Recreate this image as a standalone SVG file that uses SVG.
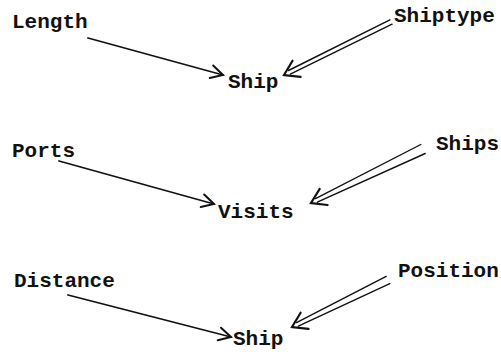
<svg xmlns="http://www.w3.org/2000/svg" width="501" height="352" viewBox="0 0 501 352">
  <style>
    .lbl { font-family: "Liberation Mono", "DejaVu Sans Mono", monospace; font-size: 21px; font-weight: bold; fill: #111; }
    .shaft { fill: none; stroke: #111; stroke-width: 1.8; stroke-linecap: round; }
    .rail { fill: none; stroke: #111; stroke-width: 1.4; stroke-linecap: round; }
    .axis { fill: none; stroke: none; }
    .single { marker-end: url(#head); }
    .double { marker-end: url(#headWide); }
  </style>
  <defs>
    <marker id="head" markerUnits="userSpaceOnUse" orient="auto" refX="0" refY="0"
            viewBox="-16 -10 20 20" markerWidth="20" markerHeight="20" overflow="visible">
      <path d="M-12,-6.5 L0,0 L-12,6.5" fill="none" stroke="#111" stroke-width="2" stroke-linejoin="miter" stroke-linecap="round"/>
    </marker>
    <marker id="headWide" markerUnits="userSpaceOnUse" orient="auto" refX="0" refY="0"
            viewBox="-18 -12 22 24" markerWidth="22" markerHeight="24" overflow="visible">
      <path d="M-14,-9 L0,0 L-14,9" fill="none" stroke="#111" stroke-width="2.2" stroke-linejoin="miter" stroke-linecap="round"/>
    </marker>
  </defs>

  <rect width="501" height="352" fill="#fff"/>

  <g id="connectors">
    <!-- Length -> Ship -->
    <path class="shaft single" d="M88,38 L223,75"/>
    <!-- Shiptype => Ship (two rails) -->
    <path class="rail" d="M389.9,19.8 L288.5,70.5"/>
    <path class="rail" d="M392.1,24.2 L290.3,74.1"/>
    <path class="axis double" d="M391,22 L284,75"/>

    <!-- Ports -> Visits -->
    <path class="shaft single" d="M59,161 L214,204"/>
    <!-- Ships => Visits -->
    <path class="rail" d="M420.8,144.5 L315.5,198.6"/>
    <path class="rail" d="M425.2,153.5 L317.3,202.2"/>
    <path class="axis double" d="M423,149 L311,203"/>

    <!-- Distance -> Ship -->
    <path class="shaft single" d="M68,295 L231,337"/>
    <!-- Position => Ship -->
    <path class="rail" d="M386.2,276.4 L296.5,322.6"/>
    <path class="rail" d="M389.8,283.6 L298.3,326.2"/>
    <path class="axis double" d="M388,280 L292,327"/>
  </g>

  <g id="length"><text class="lbl" x="12" y="28">Length</text></g>
  <g id="shiptype"><text class="lbl" x="394" y="22">Shiptype</text></g>
  <g id="ship-1"><text class="lbl" x="228" y="88">Ship</text></g>

  <g id="ports"><text class="lbl" x="12" y="157">Ports</text></g>
  <g id="ships"><text class="lbl" x="436" y="150">Ships</text></g>
  <g id="visits"><text class="lbl" x="218" y="218">Visits</text></g>

  <g id="distance"><text class="lbl" x="14" y="287">Distance</text></g>
  <g id="position"><text class="lbl" x="398" y="277">Position</text></g>
  <g id="ship-2"><text class="lbl" x="233" y="345">Ship</text></g>
</svg>
